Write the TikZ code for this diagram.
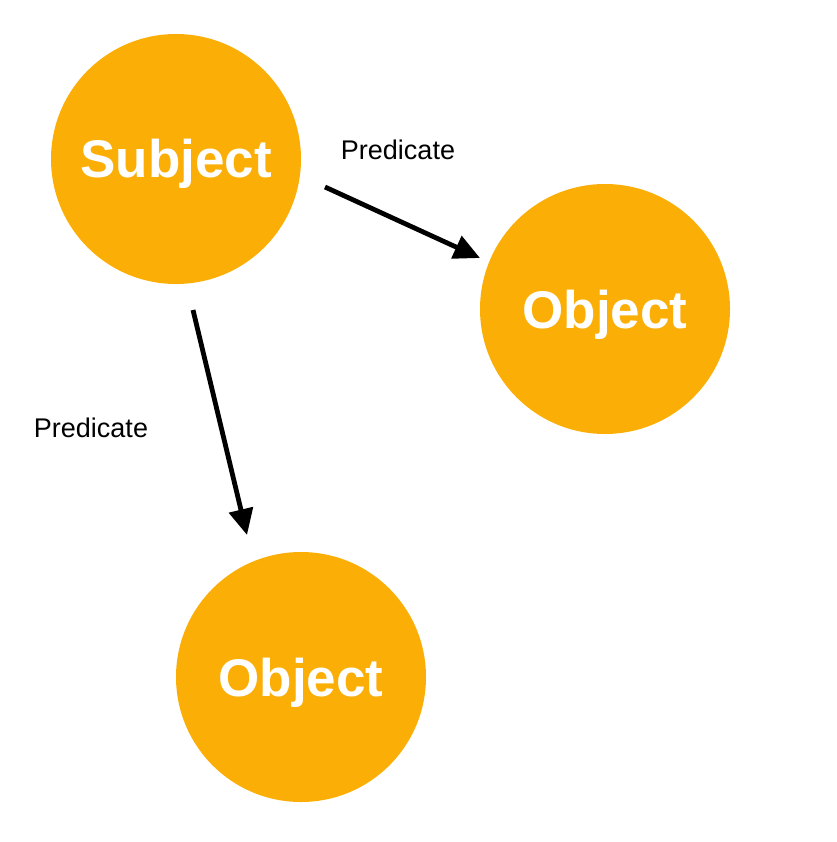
\documentclass[tikz,border=0pt]{standalone}
\usepackage{fontspec}
\setmainfont{Liberation Sans}
\usepackage{tikz}
\usetikzlibrary{positioning}
\usetikzlibrary{calc}
\usetikzlibrary{arrows.meta}
\definecolor{tripleorange}{RGB}{251,174,6}
\tikzset{
  resource/.style = {circle, fill=tripleorange, minimum size=250pt, inner sep=0pt,
    text=white, font=\fontsize{53}{60}\selectfont\bfseries,
    text height=38pt, text depth=0pt},
  predlabel/.style = {anchor=base, font=\fontsize{27}{32}\selectfont},
  predarrow/.style = {line width=4.8pt, -{Triangle[length=26pt, width=24pt]}}
}

\begin{document}
\begin{tikzpicture}[x=1pt, y=-1pt]
\useasboundingbox (0,0) rectangle (836,842);
% Subject and its objects
\node[resource] (subj) at (176,159) {Subject};
\node[resource] (objr) at (605,309) {Object};
\node[resource] (objb) at (301,677) {Object};
% Predicates
\node[predlabel] (predr) at (398,160) {Predicate};
\node[predlabel] (predb) at (91,437) {Predicate};
\draw[predarrow] ($(subj)+(149,28)$) -- ($(objr)+(-125,-51)$);
\draw[predarrow] ($(subj)+(17,151)$) -- ($(objb)+(-54,-142)$);
\end{tikzpicture}
\end{document}
